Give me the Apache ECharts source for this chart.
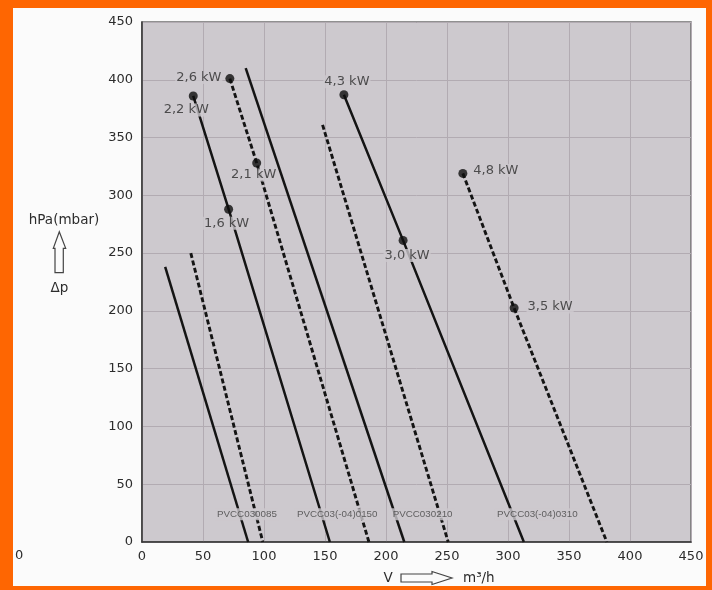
<!DOCTYPE html>
<html><head><meta charset="utf-8">
<script src="https://cdn.jsdelivr.net/npm/echarts@6/dist/echarts.min.js"></script>
<style>
html,body{margin:0;padding:0;width:712px;height:590px;overflow:hidden;background:#fe6602;}
#paper{position:absolute;left:13px;top:8px;width:693px;height:578px;background:#fbfbfb;}
#chart{position:absolute;left:0;top:0;width:712px;height:590px;}
</style></head><body>
<div id="paper"></div><div id="chart"></div>
<script>
// Fan characteristic curves: volume flow V (m³/h) against pressure Δp (hPa)
const xTickValues = [0, 50, 100, 150, 200, 250, 300, 350, 400, 450];
const yTickValues = [0, 50, 100, 150, 200, 250, 300, 350, 400, 450];

// solid = high speed, dashed = low speed
const curve085Solid  = [[19, 238], [87, 0]];
const curve085Dashed = [[40, 250], [99, 0]];
const curve150Solid  = [[42, 386], [71, 288], [154, 0]];
const curve150Dashed = [[72, 401], [94, 328], [186, 0]];
const curve210Solid  = [[85, 410], [215, 0]];
const curve210Dashed = [[148, 361], [251, 0]];
const curve310Solid  = [[165.5, 387], [214, 261], [313, 0]];
const curve310Dashed = [[263, 319], [305, 202.5], [381, 0]];

// rated power points on the curves
const powerPoints = [[42, 386], [71, 288], [72, 401], [94, 328], [165.5, 387], [214, 261], [263, 319], [305, 202.5]];
const powerLabels = ['2,2 kW', '1,6 kW', '2,6 kW', '2,1 kW', '4,3 kW', '3,0 kW', '4,8 kW', '3,5 kW'];

// model names written across the curves
const modelNames = ['PVCC030085', 'PVCC03(-04)0150', 'PVCC030210', 'PVCC03(-04)0310'];
const modelNameAt = [[86, 24], [160, 24], [230, 24], [324, 24]];

const plotBg = '#cdc9ce';
const inkColor = '#2c2c2c';
const powerLabelOffsets = [[-7, 14], [-2, 14], [-31, -1], [-3, 12], [3, -13], [4, 15], [33, -3], [36, -1]];

const solidStyle = { color: '#141414', width: 2.5, type: 'solid' };
const dashedStyle = { color: '#141414', width: 2.9, type: [5, 2.6] };

function curve(data, style) {
  return {
    type: 'line', data: data, symbol: 'none', silent: true, z: 3,
    lineStyle: style, animation: false
  };
}

const chart = echarts.init(document.getElementById('chart'), null, { renderer: 'canvas' });
chart.setOption({
  backgroundColor: 'transparent',
  animation: false,
  grid: {
    left: 142, right: 21, top: 22, bottom: 48, containLabel: false,
    show: true, backgroundColor: plotBg, borderColor: '#6e6e6e', borderWidth: 1.5
  },
  xAxis: {
    type: 'value', min: xTickValues[0], max: xTickValues[xTickValues.length - 1], interval: 50,
    axisLine: { show: true, lineStyle: { color: '#333', width: 1.5 } },
    axisTick: { show: false },
    axisLabel: { color: inkColor, fontFamily: 'DejaVu Sans', fontSize: 13, margin: 8 },
    splitLine: { show: true, lineStyle: { color: '#b2abb2', width: 1 } }
  },
  yAxis: {
    type: 'value', min: yTickValues[0], max: yTickValues[yTickValues.length - 1], interval: 50,
    axisLine: { show: true, lineStyle: { color: '#333', width: 1.5 } },
    axisTick: { show: false },
    axisLabel: { color: inkColor, fontFamily: 'DejaVu Sans', fontSize: 13, margin: 9 },
    splitLine: { show: true, lineStyle: { color: '#b2abb2', width: 1 } }
  },
  series: [
    curve(curve085Solid, solidStyle),
    curve(curve085Dashed, dashedStyle),
    curve(curve150Solid, solidStyle),
    curve(curve150Dashed, dashedStyle),
    curve(curve210Solid, solidStyle),
    curve(curve210Dashed, dashedStyle),
    curve(curve310Solid, solidStyle),
    curve(curve310Dashed, dashedStyle),
    {
      type: 'scatter', z: 5, symbol: 'circle', symbolSize: 9, silent: true,
      itemStyle: { color: '#0e0e0e' },
      data: powerPoints.map((p, i) => ({
        value: p,
        label: {
          show: true, position: 'inside', offset: powerLabelOffsets[i],
          formatter: powerLabels[i], color: inkColor, fontFamily: 'DejaVu Sans', fontSize: 13,
          align: 'center', verticalAlign: 'middle',
          backgroundColor: plotBg, padding: [0, 1]
        }
      }))
    },
    {
      type: 'scatter', z: 4, symbol: 'circle', symbolSize: 1, silent: true,
      itemStyle: { color: 'transparent' },
      data: modelNameAt.map((p, i) => ({
        value: p,
        label: {
          show: true, position: 'inside', formatter: modelNames[i],
          color: '#444', fontFamily: 'Liberation Sans', fontSize: 9.8,
          align: 'center', verticalAlign: 'middle',
          backgroundColor: plotBg, padding: [1, 2]
        }
      }))
    }
  ],
  graphic: [
    { type: 'text', left: 15, top: 549, style: { text: '0', fill: inkColor, font: '13px "DejaVu Sans"' } },
    { type: 'text', x: 64, y: 220, style: { text: 'hPa(mbar)', fill: inkColor, font: '13.5px "DejaVu Sans"', align: 'center', verticalAlign: 'middle' } },
    {
      type: 'polygon',
      shape: { points: [[59.3, 231.7], [65.7, 248.3], [63.3, 248.3], [63.3, 272.7], [55, 272.7], [55, 248.3], [53.3, 248.3]] },
      style: { fill: 'none', stroke: '#444', lineWidth: 1.2 }
    },
    { type: 'text', x: 59.5, y: 288, style: { text: 'Δp', fill: inkColor, font: '13.5px "DejaVu Sans"', align: 'center', verticalAlign: 'middle' } },
    { type: 'text', x: 388, y: 578, style: { text: 'V', fill: inkColor, font: '13.5px "DejaVu Sans"', align: 'center', verticalAlign: 'middle' } },
    {
      type: 'polygon',
      shape: { points: [[401, 574], [432, 574], [432, 571.5], [452, 578], [432, 584.5], [432, 582], [401, 582]] },
      style: { fill: 'none', stroke: '#444', lineWidth: 1.2 }
    },
    { type: 'text', x: 463, y: 578, style: { text: 'm³/h', fill: inkColor, font: '13.5px "DejaVu Sans"', align: 'left', verticalAlign: 'middle' } }
  ]
});
</script>
</body></html>
